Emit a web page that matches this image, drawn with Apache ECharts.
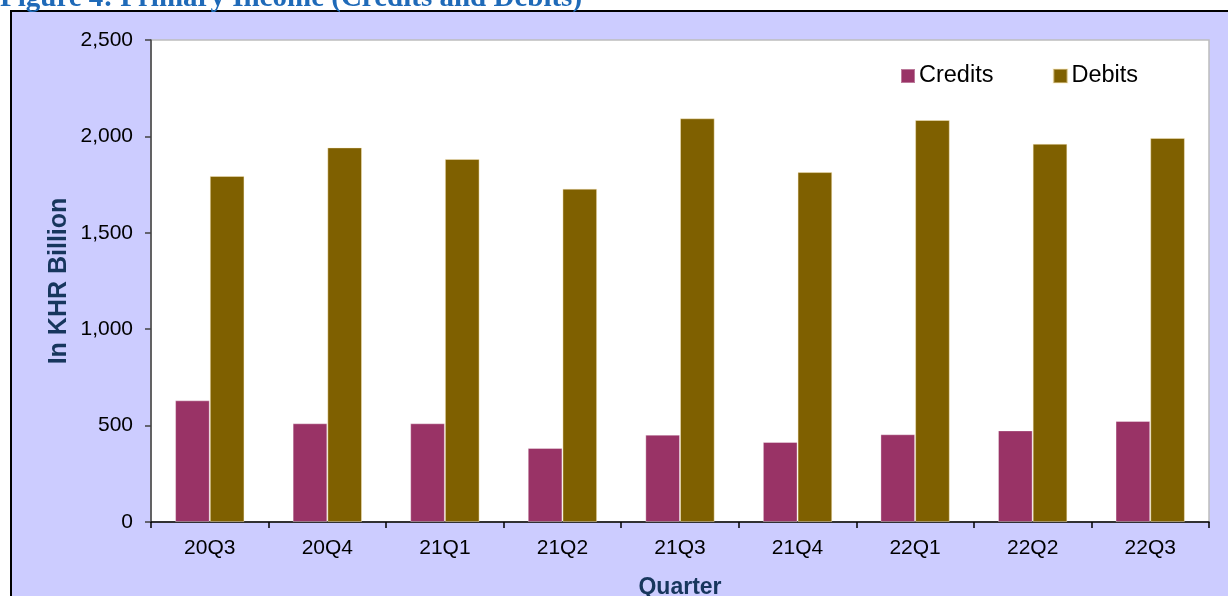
<!DOCTYPE html>
<html>
<head>
<meta charset="utf-8">
<script src="https://cdn.jsdelivr.net/npm/echarts@6/dist/echarts.min.js"></script>
<style>
html,body{margin:0;padding:0;background:#fff;}
#chart{width:1228px;height:596px;}
</style>
</head>
<body>
<div id="chart"></div>
<script>
var categories = ['20Q3','20Q4','21Q1','21Q2','21Q3','21Q4','22Q1','22Q2','22Q3'];
var credits = [631, 512, 512, 384, 453, 415, 455, 475, 524];
var debits = [1795, 1943, 1883, 1729, 2094, 1815, 2085, 1962, 1992];
var yTicks = [0, 500, 1000, 1500, 2000, 2500];

var chart = echarts.init(document.getElementById('chart'));
var fmt = function (v) { return v.toLocaleString('en-US'); };
chart.setOption({
  animation: false,
  backgroundColor: '#ffffff',
  graphic: [
    { type: 'rect', z: -10, silent: true,
      shape: { x: 11, y: 11, width: 1240, height: 620 },
      style: { fill: '#CCCCFF', stroke: '#000', lineWidth: 2 } },
    { type: 'text', z: 10, silent: true, x: 0, y: -1,
      style: { text: 'Figure 4: Primary Income (Credits and Debits)',
        font: 'bold 29px "Liberation Serif", "Times New Roman", serif',
        fill: '#1F6AB8', verticalAlign: 'middle', align: 'left' } }
  ],
  legend: {
    data: ['Credits', 'Debits'],
    left: 900, top: 64, padding: 0,
    icon: 'rect', itemWidth: 14, itemHeight: 14, itemGap: 59,
    textStyle: { fontFamily: 'Liberation Sans, Arial', fontSize: 23.5, color: '#000', padding: [0, 0, 0, -1] }
  },
  grid: {
    left: 151, right: 19, top: 40, bottom: 74,
    containLabel: false, outerBoundsMode: 'none',
    show: true, backgroundColor: '#ffffff', borderColor: '#BDBDBD', borderWidth: 1.5
  },
  xAxis: {
    type: 'category', data: categories,
    name: 'Quarter', nameLocation: 'middle', nameGap: 54, nameMoveOverlap: false,
    nameTextStyle: { fontFamily: 'Liberation Sans, Arial', fontSize: 23, fontWeight: 'bold', color: '#17365D' },
    axisLine: { lineStyle: { color: '#000', width: 1.5 } },
    axisTick: { show: true, alignWithLabel: false, length: 6, lineStyle: { color: '#000', width: 1.5 } },
    axisLabel: { fontFamily: 'Liberation Sans, Arial', fontSize: 21, color: '#000', margin: 16 }
  },
  yAxis: {
    type: 'value', min: 0, max: 2500, interval: 500,
    name: 'In KHR Billion', nameLocation: 'middle', nameGap: 79, nameRotate: 90, nameMoveOverlap: false,
    nameTextStyle: { fontFamily: 'Liberation Sans, Arial', fontSize: 25, fontWeight: 'bold', color: '#17365D' },
    axisLine: { show: true, lineStyle: { color: '#404040', width: 1.5 } },
    axisTick: { show: true, length: 6, lineStyle: { color: '#404040', width: 1.5 } },
    splitLine: { show: false },
    axisLabel: { fontFamily: 'Liberation Sans, Arial', fontSize: 21, color: '#000', margin: 18,
      formatter: function (v) { return yTicks.indexOf(v) >= 0 ? fmt(v) : ''; } }
  },
  series: [
    { name: 'Credits', type: 'bar', data: credits, barGap: '0%', barCategoryGap: '41%',
      itemStyle: { color: '#993366', borderColor: 'rgba(255,255,255,0.35)', borderWidth: 1 } },
    { name: 'Debits', type: 'bar', data: debits, barGap: '0%', barCategoryGap: '41%',
      itemStyle: { color: '#7F6000', borderColor: 'rgba(255,240,200,0.45)', borderWidth: 1 } }
  ]
});
</script>
</body>
</html>
